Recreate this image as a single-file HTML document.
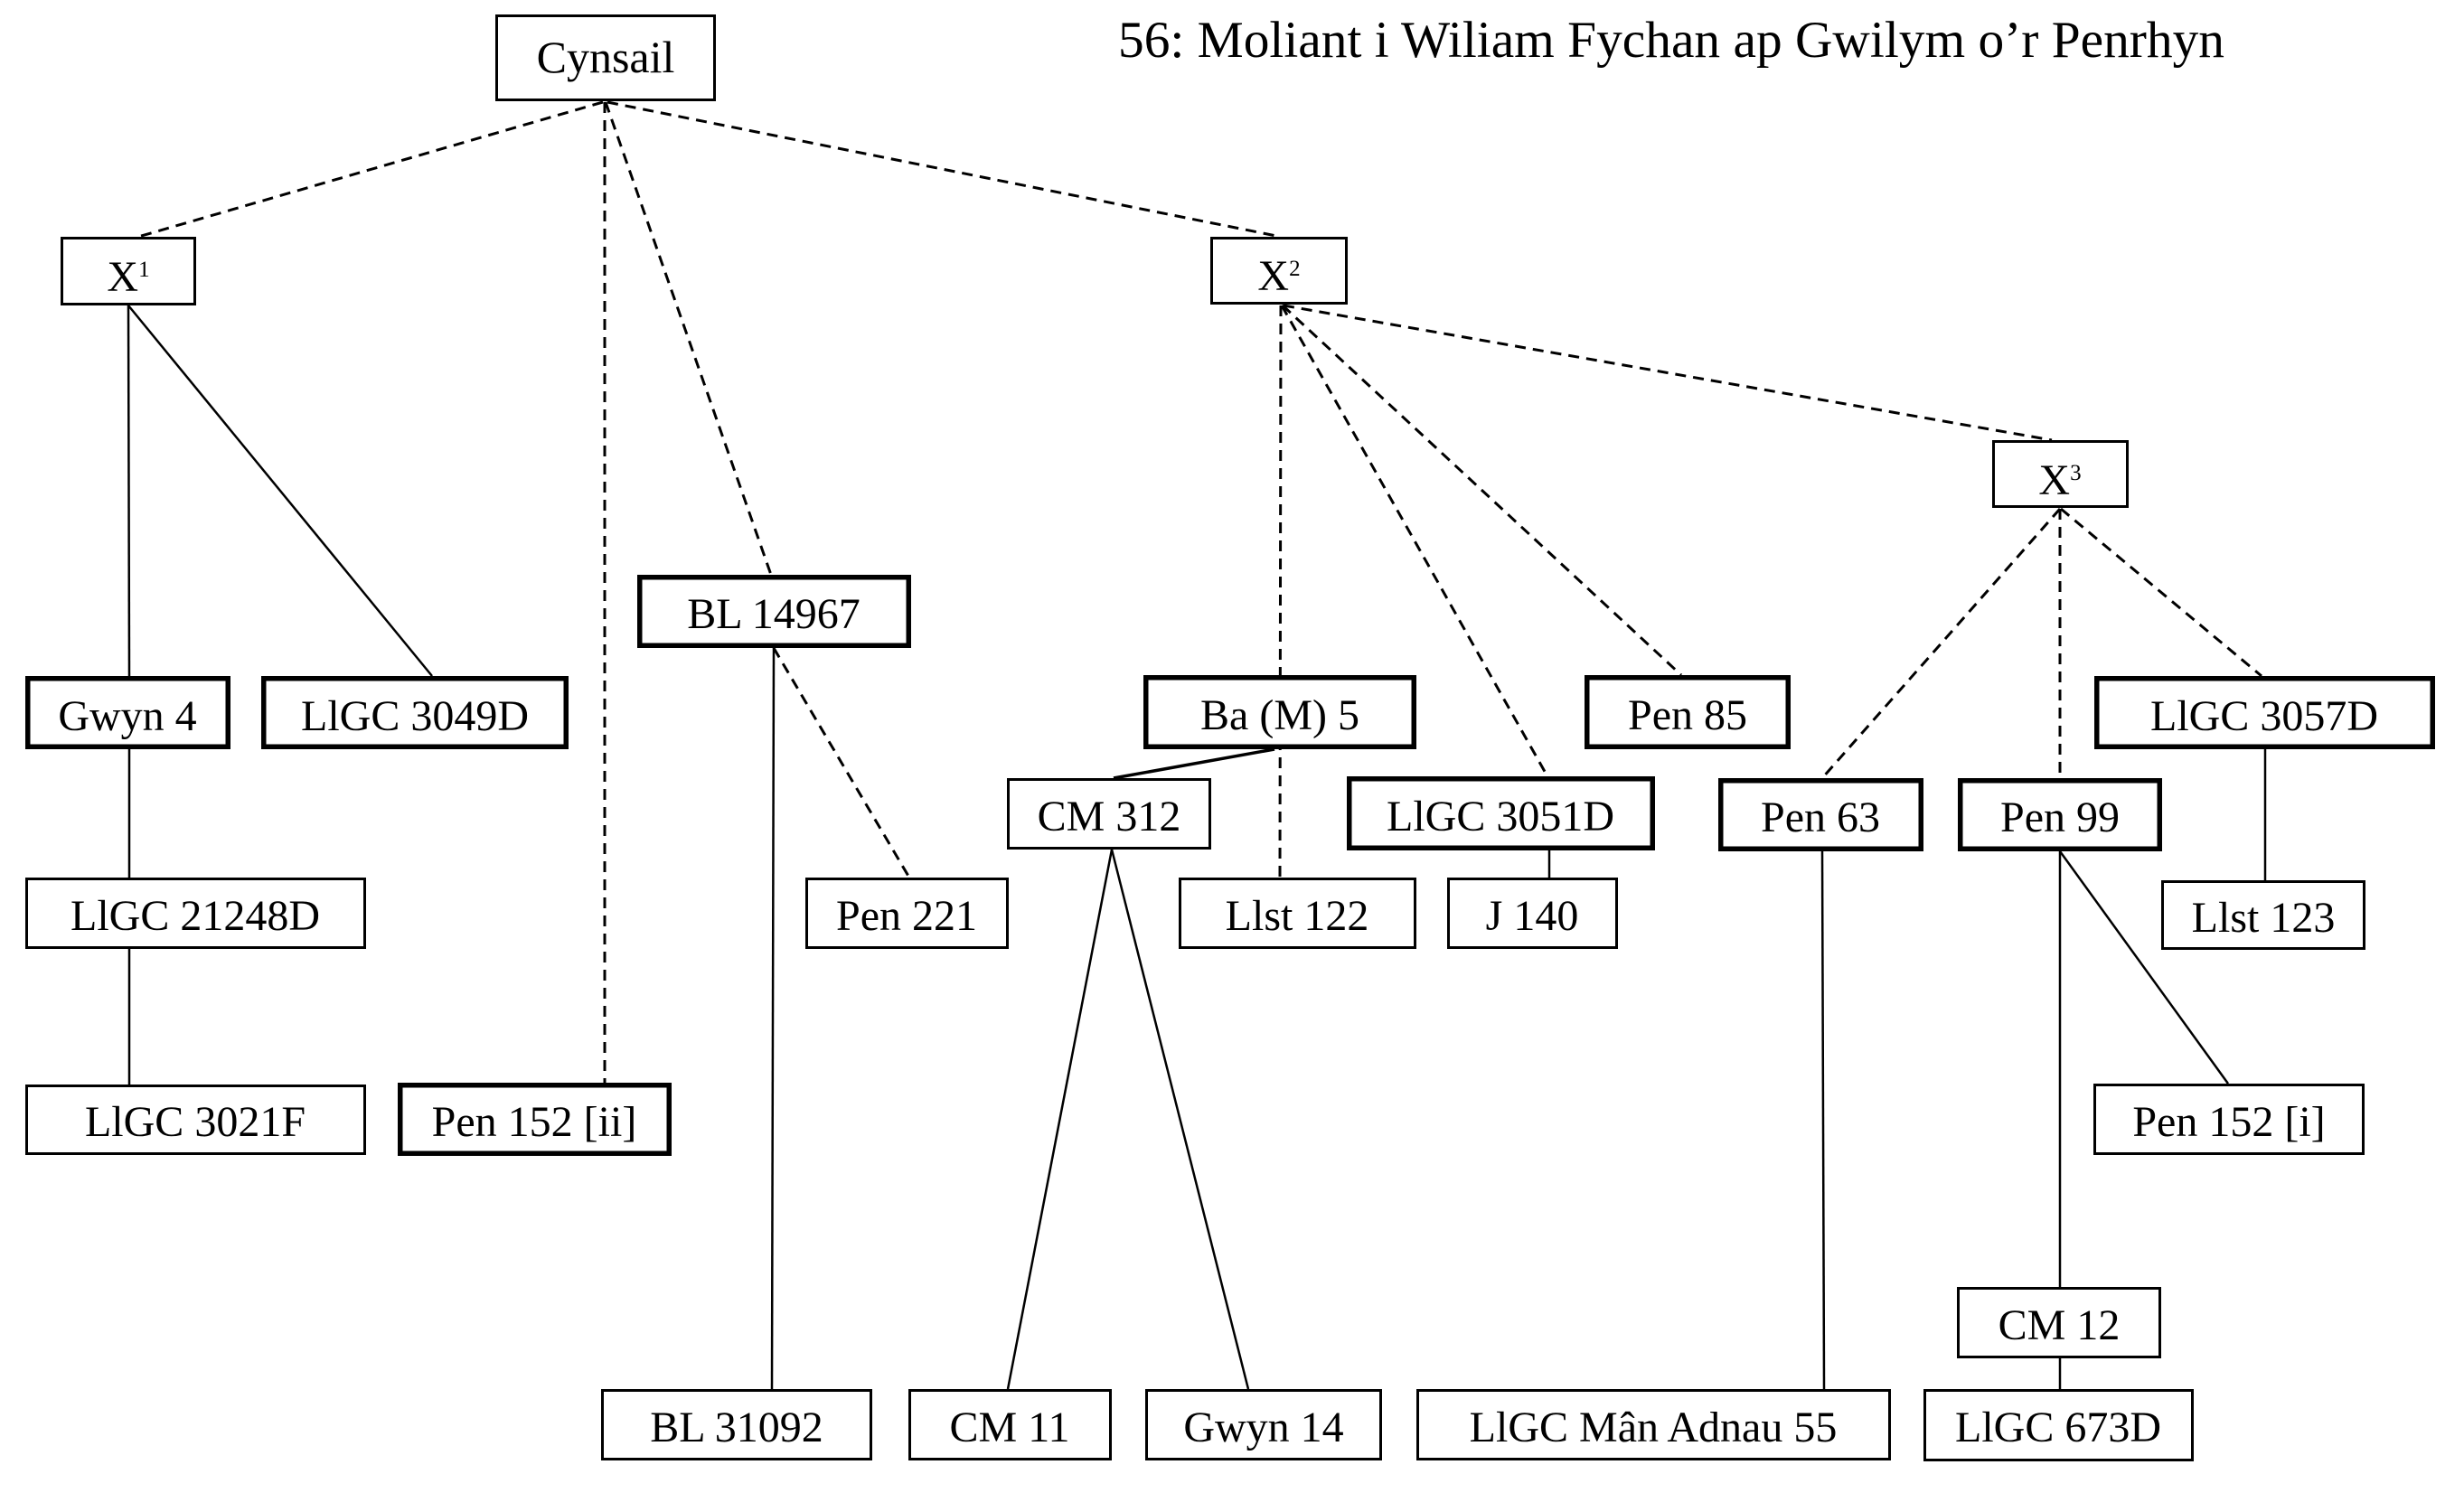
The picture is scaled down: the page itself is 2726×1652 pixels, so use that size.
<!DOCTYPE html>
<html>
<head>
<meta charset="utf-8">
<style>
  html, body { margin: 0; padding: 0; background: #ffffff; }
  body { width: 2726px; height: 1652px; overflow: hidden; }
  svg { display: block; }
  text { font-family: "Liberation Serif", "Times New Roman", serif; fill: #000; }
</style>
</head>
<body>
<svg width="2726" height="1652" viewBox="0 0 2726 1652" xmlns="http://www.w3.org/2000/svg">
  <rect x="0" y="0" width="2726" height="1652" fill="#ffffff"/>

  <!-- Title -->
  <text x="1237" y="63" font-size="57" textLength="1224" lengthAdjust="spacingAndGlyphs">56: Moliant i Wiliam Fychan ap Gwilym o’r Penrhyn</text>

  <!-- Dashed connectors -->
  <g stroke="#000" stroke-width="3" stroke-dasharray="12 8" fill="none">
    <line x1="667" y1="113" x2="153" y2="262"/>
    <line x1="669" y1="113" x2="669" y2="1198"/>
    <line x1="670" y1="113" x2="853" y2="636"/>
    <line x1="672" y1="113" x2="1417" y2="262"/>
    <line x1="1417" y1="338" x2="1416" y2="971"/>
    <line x1="1418" y1="338" x2="1712" y2="859"/>
    <line x1="1419" y1="338" x2="1860" y2="747"/>
    <line x1="1420" y1="338" x2="2270" y2="487"/>
    <line x1="2279" y1="563" x2="2016" y2="861"/>
    <line x1="2279" y1="563" x2="2279" y2="861"/>
    <line x1="2280" y1="563" x2="2502" y2="748"/>
    <line x1="856" y1="717" x2="1006" y2="971"/>
  </g>

  <!-- Solid connectors -->
  <g stroke="#000" stroke-width="2.5" fill="none">
    <line x1="142" y1="338" x2="143" y2="748"/>
    <line x1="142" y1="338" x2="478" y2="748"/>
    <line x1="143" y1="829" x2="143" y2="971"/>
    <line x1="143" y1="1050" x2="143" y2="1200"/>
    <line x1="856" y1="717" x2="854" y2="1537"/>
    <line x1="1410" y1="829" x2="1232" y2="861" stroke-width="3.5"/>
    <line x1="1230" y1="940" x2="1115" y2="1537"/>
    <line x1="1230" y1="940" x2="1381" y2="1537"/>
    <line x1="1714" y1="941" x2="1714" y2="971"/>
    <line x1="2016" y1="942" x2="2018" y2="1537"/>
    <line x1="2279" y1="942" x2="2279" y2="1424"/>
    <line x1="2279" y1="942" x2="2465" y2="1199"/>
    <line x1="2279" y1="1503" x2="2279" y2="1537"/>
    <line x1="2506" y1="829" x2="2506" y2="974"/>
  </g>

  <!-- Thin boxes (stroke 3) -->
  <g fill="#fff" stroke="#000" stroke-width="3">
    <rect x="549.5" y="17.5" width="241" height="93"/>
    <rect x="68.5" y="263.5" width="147" height="73"/>
    <rect x="1340.5" y="263.5" width="149" height="72"/>
    <rect x="2205.5" y="488.5" width="148" height="72"/>
    <rect x="1115.5" y="862.5" width="223" height="76"/>
    <rect x="29.5" y="972.5" width="374" height="76"/>
    <rect x="892.5" y="972.5" width="222" height="76"/>
    <rect x="1305.5" y="972.5" width="260" height="76"/>
    <rect x="1602.5" y="972.5" width="186" height="76"/>
    <rect x="2392.5" y="975.5" width="223" height="74"/>
    <rect x="29.5" y="1201.5" width="374" height="75"/>
    <rect x="2317.5" y="1200.5" width="297" height="76"/>
    <rect x="2166.5" y="1425.5" width="223" height="76"/>
    <rect x="666.5" y="1538.5" width="297" height="76"/>
    <rect x="1006.5" y="1538.5" width="222" height="76"/>
    <rect x="1268.5" y="1538.5" width="259" height="76"/>
    <rect x="1568.5" y="1538.5" width="522" height="76"/>
    <rect x="2129.5" y="1538.5" width="296" height="77"/>
  </g>

  <!-- Bold boxes (stroke 5.5) -->
  <g fill="#fff" stroke="#000" stroke-width="5.5">
    <rect x="707.75" y="638.75" width="297.5" height="75.5"/>
    <rect x="30.75" y="750.75" width="221.5" height="75.5"/>
    <rect x="291.75" y="750.75" width="334.5" height="75.5"/>
    <rect x="1267.75" y="749.75" width="296.5" height="76.5"/>
    <rect x="1755.75" y="749.75" width="222.5" height="76.5"/>
    <rect x="2319.75" y="750.75" width="371.5" height="75.5"/>
    <rect x="1492.75" y="861.75" width="335.5" height="76.5"/>
    <rect x="1903.75" y="863.75" width="221.5" height="75.5"/>
    <rect x="2168.75" y="863.75" width="220.5" height="75.5"/>
    <rect x="442.75" y="1200.75" width="297.5" height="75.5"/>
  </g>

  <!-- Labels -->
  <g font-size="48" text-anchor="middle">
    <text x="670" y="80" font-size="50">Cynsail</text>
    <text x="142" y="322">X<tspan font-size="25" dy="-16">1</tspan></text>
    <text x="1415" y="321">X<tspan font-size="25" dy="-16">2</tspan></text>
    <text x="2279" y="547">X<tspan font-size="25" dy="-16">3</tspan></text>

    <text x="856" y="695">BL 14967</text>
    <text x="141" y="808">Gwyn 4</text>
    <text x="459" y="808">LlGC 3049D</text>
    <text x="1416" y="807">Ba (M) 5</text>
    <text x="1867" y="807">Pen 85</text>
    <text x="2505" y="808">LlGC 3057D</text>

    <text x="1227" y="919">CM 312</text>
    <text x="1660" y="919">LlGC 3051D</text>
    <text x="2014" y="920">Pen 63</text>
    <text x="2279" y="920">Pen 99</text>

    <text x="216" y="1029">LlGC 21248D</text>
    <text x="1003" y="1029">Pen 221</text>
    <text x="1435" y="1029">Llst 122</text>
    <text x="1695" y="1029">J 140</text>
    <text x="2504" y="1031">Llst 123</text>

    <text x="216" y="1257">LlGC 3021F</text>
    <text x="591" y="1257">Pen 152 [ii]</text>
    <text x="2466" y="1257">Pen 152 [i]</text>

    <text x="2278" y="1482">CM 12</text>

    <text x="815" y="1595">BL 31092</text>
    <text x="1117" y="1595">CM 11</text>
    <text x="1398" y="1595">Gwyn 14</text>
    <text x="1829" y="1595">LlGC Mân Adnau 55</text>
    <text x="2277" y="1595">LlGC 673D</text>
  </g>
</svg>
</body>
</html>
